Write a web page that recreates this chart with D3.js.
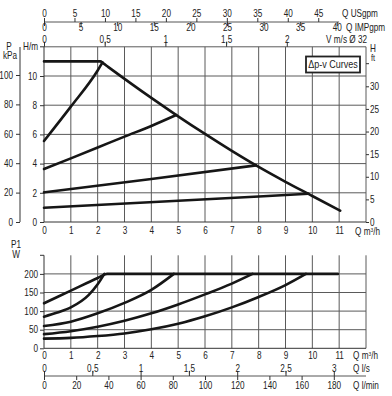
<!DOCTYPE html>
<html><head><meta charset="utf-8">
<script src="https://cdn.jsdelivr.net/npm/d3@7"></script>
<style>
body{margin:0;background:#fff}
text{font-family:"Liberation Sans",Arial,Helvetica,sans-serif;font-size:10px;fill:#222}
</style></head>
<body><svg id="c" width="392" height="396"></svg>
<script>
// ---- tick values / labels ----
const qTicks = [0,1,2,3,4,5,6,7,8,9,10,11];
const hTicks = [0,2,4,6,8,10];
const kpaTicks = [0,20,40,60,80,100];
const ftTicks = [0,5,10,15,20,25,30];
const usgpmTicks = [0,5,10,15,20,25,30,35,40,45];
const impgpmTicks = [0,5,10,15,20,25,30,35,40];
const vTicks = [0,0.5,1,1.5,2];
const vLabels = ["0","0,5","1","1,5","2"];
const wTicks = [0,50,100,150,200];
const lsTicks = [0,0.5,1,1.5,2,2.5,3];
const lsLabels = ["0","0,5","1","1,5","2","2,5","3"];
const lminTicks = [0,20,40,60,80,100,120,140,160,180];

// ---- head curves (Q m3/h, H m) ----
const headMax = [[0,11],[2.1,11],[2.2,10.88],[2.4,10.61],[4,8.5],[5,7.24],[6,6.03],[7,4.87],[8,3.77],[9,2.75],[10,1.78],[11.04,0.77]];
const head1 = [[0,5.55],[1,7.9],[2,10.38],[2.18,10.93]];
const head2 = [[0,3.63],[1,4.36],[2,5.1],[3,5.85],[4,6.58],[4.93,7.33]];
const head3 = [[0,2.03],[4,2.95],[7.9,3.88]];
const head4 = [[0,0.98],[5,1.46],[9.85,1.93]];
const headCurves = [headMax, head1, head2, head3, head4];

// ---- power curves (Q m3/h, P1 W) ----
const powerMax = [[0,121],[1,155],[2,189],[2.35,200],[10.95,200]];
const power2 = [[0,85],[0.5,96],[1,110],[1.66,143],[2,172],[2.25,200]];
const power3 = [[0,60],[1,71.5],[2,94],[3,122],[4,157],[4.84,200]];
const power4 = [[0,38],[1,46],[2,58],[3,74],[4,94],[5,118],[6,145],[7,174],[7.77,200]];
const power5 = [[0,26],[1,28],[2,33],[3,40],[4,51],[5,66],[6,86],[7,110],[8,138],[9,170],[9.76,200]];
const powerCurves = [powerMax, power2, power3, power4, power5];

const svg = d3.select("#c");
const X = d3.scaleLinear().domain([0,12]).range([44,366]);
const H = d3.scaleLinear().domain([0,12]).range([222,46.8]);
const KPA = d3.scaleLinear().domain([0,100]).range([222,75]);
const FT = d3.scaleLinear().domain([0,30]).range([222,86.3]);
const W = d3.scaleLinear().domain([0,250]).range([348.3,255.3]);
const US = d3.scaleLinear().domain([0,12/0.22712]).range([44,366]);
const IMP = d3.scaleLinear().domain([0,12/0.27277]).range([44,366]);
const V = d3.scaleLinear().domain([0,12/4.524]).range([44,366]);
const LS = d3.scaleLinear().domain([0,12/3.6]).range([44,366]);
const LMIN = d3.scaleLinear().domain([0,12/0.06]).range([44,366]);

const gridCol = "#5a5a5a";
function styleAxis(g){
  g.select(".domain").remove();
  g.selectAll(".tick line").attr("stroke","#333").attr("stroke-width",1);
  g.selectAll(".tick text").attr("fill","#222").style("font-size","10px")
    .style("font-family",'"Liberation Sans",Arial,sans-serif');
}
function m3h(sel,x,y){
  sel.append("text").attr("x",x).attr("y",y)
    .html("Q m<tspan dy='-3' style='font-size:6px'>3</tspan><tspan dy='3'>/h</tspan>");
}

// ===== TOP CHART =====
const gTop = svg.append("g");
gTop.selectAll(".vg").data(d3.range(1,13)).join("line")
  .attr("x1",d=>X(d)).attr("x2",d=>X(d)).attr("y1",H(0)).attr("y2",H(12))
  .attr("stroke",gridCol).attr("stroke-width",1);
gTop.selectAll(".hg").data([2,4,6,8,10,12]).join("line")
  .attr("x1",X(0)).attr("x2",X(12)).attr("y1",d=>H(d)).attr("y2",d=>H(d))
  .attr("stroke",gridCol).attr("stroke-width",1);
gTop.append("line").attr("x1",X(0)).attr("x2",X(0)).attr("y1",H(0)).attr("y2",H(12)).attr("stroke","#333");
gTop.append("line").attr("x1",X(0)).attr("x2",X(12)).attr("y1",H(0)).attr("y2",H(0)).attr("stroke","#333");

gTop.append("g").attr("transform",`translate(${X(0)},0)`)
  .call(d3.axisLeft(H).tickValues(hTicks).tickSize(4).tickPadding(3)).call(styleAxis);
gTop.append("line").attr("x1",X(0)-4).attr("x2",X(0)).attr("y1",H(12)).attr("y2",H(12)).attr("stroke","#333");
gTop.append("text").attr("x",38).attr("y",H(12)+3.5).attr("text-anchor","end").text("H/m");
gTop.append("g").attr("transform","translate(20,0)")
  .call(d3.axisLeft(KPA).tickValues(kpaTicks).tickSize(4).tickPadding(3)).call(styleAxis);
gTop.append("line").attr("x1",20).attr("x2",20).attr("y1",47).attr("y2",222).attr("stroke","#333");
gTop.append("text").attr("x",9).attr("y",50).attr("text-anchor","middle").text("P");
gTop.append("text").attr("x",10).attr("y",59.5).attr("text-anchor","middle").text("kPa");
gTop.append("g").attr("transform",`translate(${X(12)},0)`)
  .call(d3.axisRight(FT).tickValues(ftTicks).tickSize(3).tickPadding(1)).call(styleAxis);
gTop.append("line").attr("x1",X(12)).attr("x2",X(12)+3).attr("y1",FT(35)).attr("y2",FT(35)).attr("stroke","#333");
gTop.append("text").attr("x",370).attr("y",52).text("H");
gTop.append("text").attr("x",371).attr("y",61).style("font-size","9px").text("ft");
gTop.append("g").attr("transform",`translate(0,${H(0)})`)
  .call(d3.axisBottom(X).tickValues(qTicks).tickSize(0).tickPadding(4.5)).call(styleAxis);
m3h(gTop,355,235);

gTop.append("g").attr("transform",`translate(0,${H(12)})`)
  .call(d3.axisTop(V).tickValues(vTicks).tickFormat((d,i)=>vLabels[i]).tickSize(5).tickPadding(-1.5)).call(styleAxis);
gTop.append("text").attr("x",367).attr("y",43).attr("text-anchor","end").text("V m/s Ø 32");
gTop.append("line").attr("x1",US(0)).attr("x2",X(11)).attr("y1",22).attr("y2",22).attr("stroke","#555");
gTop.append("g").attr("transform","translate(0,22)")
  .call(d3.axisTop(US).tickValues(usgpmTicks).tickSize(4).tickPadding(1)).call(styleAxis);
gTop.append("g").attr("transform","translate(0,22)")
  .call(d3.axisBottom(IMP).tickValues(impgpmTicks).tickSize(4).tickPadding(-2)).call(styleAxis);
gTop.append("text").attr("x",342).attr("y",17).text("Q USgpm");
gTop.append("text").attr("x",346).attr("y",31).text("Q IMPgpm");

gTop.append("rect").attr("x",306).attr("y",56.5).attr("width",54).attr("height",16)
  .attr("fill","#fff").attr("stroke","#222").attr("stroke-width",1.8);
gTop.append("text").attr("x",333).attr("y",68.5).attr("text-anchor","middle").style("font-size","11px").text("Δp-v Curves");

const lineH = d3.line().x(d=>X(d[0])).y(d=>H(d[1])).curve(d3.curveMonotoneX);
gTop.selectAll(".hc").data(headCurves).join("path")
  .attr("d",lineH).attr("fill","none").attr("stroke","#161616").attr("stroke-width",2.6)
  .attr("stroke-linejoin","round").attr("stroke-linecap","round");

// ===== BOTTOM CHART =====
const gBot = svg.append("g");
gBot.selectAll(".vg").data(d3.range(1,13)).join("line")
  .attr("x1",d=>X(d)).attr("x2",d=>X(d)).attr("y1",W(0)).attr("y2",W(250))
  .attr("stroke",gridCol).attr("stroke-width",1);
gBot.selectAll(".hg").data([50,100,150,200]).join("line")
  .attr("x1",X(0)).attr("x2",X(12)).attr("y1",d=>W(d)).attr("y2",d=>W(d))
  .attr("stroke",gridCol).attr("stroke-width",1);
gBot.append("line").attr("x1",X(0)).attr("x2",X(0)).attr("y1",W(0)).attr("y2",W(250)).attr("stroke","#333");
gBot.append("line").attr("x1",X(0)).attr("x2",X(12)).attr("y1",W(0)).attr("y2",W(0)).attr("stroke","#333");
gBot.append("g").attr("transform",`translate(${X(0)},0)`)
  .call(d3.axisLeft(W).tickValues(wTicks).tickSize(4).tickPadding(2)).call(styleAxis);
gBot.append("line").attr("x1",X(0)-4).attr("x2",X(0)).attr("y1",W(250)).attr("y2",W(250)).attr("stroke","#333");
gBot.append("text").attr("x",16).attr("y",248.5).attr("text-anchor","middle").text("P1");
gBot.append("text").attr("x",16).attr("y",258.5).attr("text-anchor","middle").text("W");
gBot.append("g").attr("transform",`translate(0,${W(0)})`)
  .call(d3.axisBottom(X).tickValues(qTicks).tickSize(0).tickPadding(3.2)).call(styleAxis);
m3h(gBot,353,359);

gBot.append("line").attr("x1",LS(0)).attr("x2",X(12)).attr("y1",376).attr("y2",376).attr("stroke","#555");
gBot.append("g").attr("transform","translate(0,376)")
  .call(d3.axisTop(LS).tickValues(lsTicks).tickFormat((d,i)=>lsLabels[i]).tickSize(5).tickPadding(-1)).call(styleAxis);
gBot.append("g").attr("transform","translate(0,376)")
  .call(d3.axisBottom(LMIN).tickValues(lminTicks).tickSize(4).tickPadding(2)).call(styleAxis);
gBot.append("text").attr("x",353).attr("y",372.5).text("Q l/s");
gBot.append("text").attr("x",353).attr("y",389).text("Q l/min");

const lineW = d3.line().x(d=>X(d[0])).y(d=>W(d[1])).curve(d3.curveMonotoneX);
gBot.selectAll(".pc").data(powerCurves).join("path")
  .attr("d",lineW).attr("fill","none").attr("stroke","#161616").attr("stroke-width",2.6)
  .attr("stroke-linejoin","round").attr("stroke-linecap","round");

// condense all text horizontally (reference uses a condensed face)
svg.selectAll("text").each(function(){
  const x = +(this.getAttribute("x") || 0);
  d3.select(this).attr("transform",`translate(${x},0) scale(0.82,1) translate(${-x},0)`);
});
</script></body></html>
